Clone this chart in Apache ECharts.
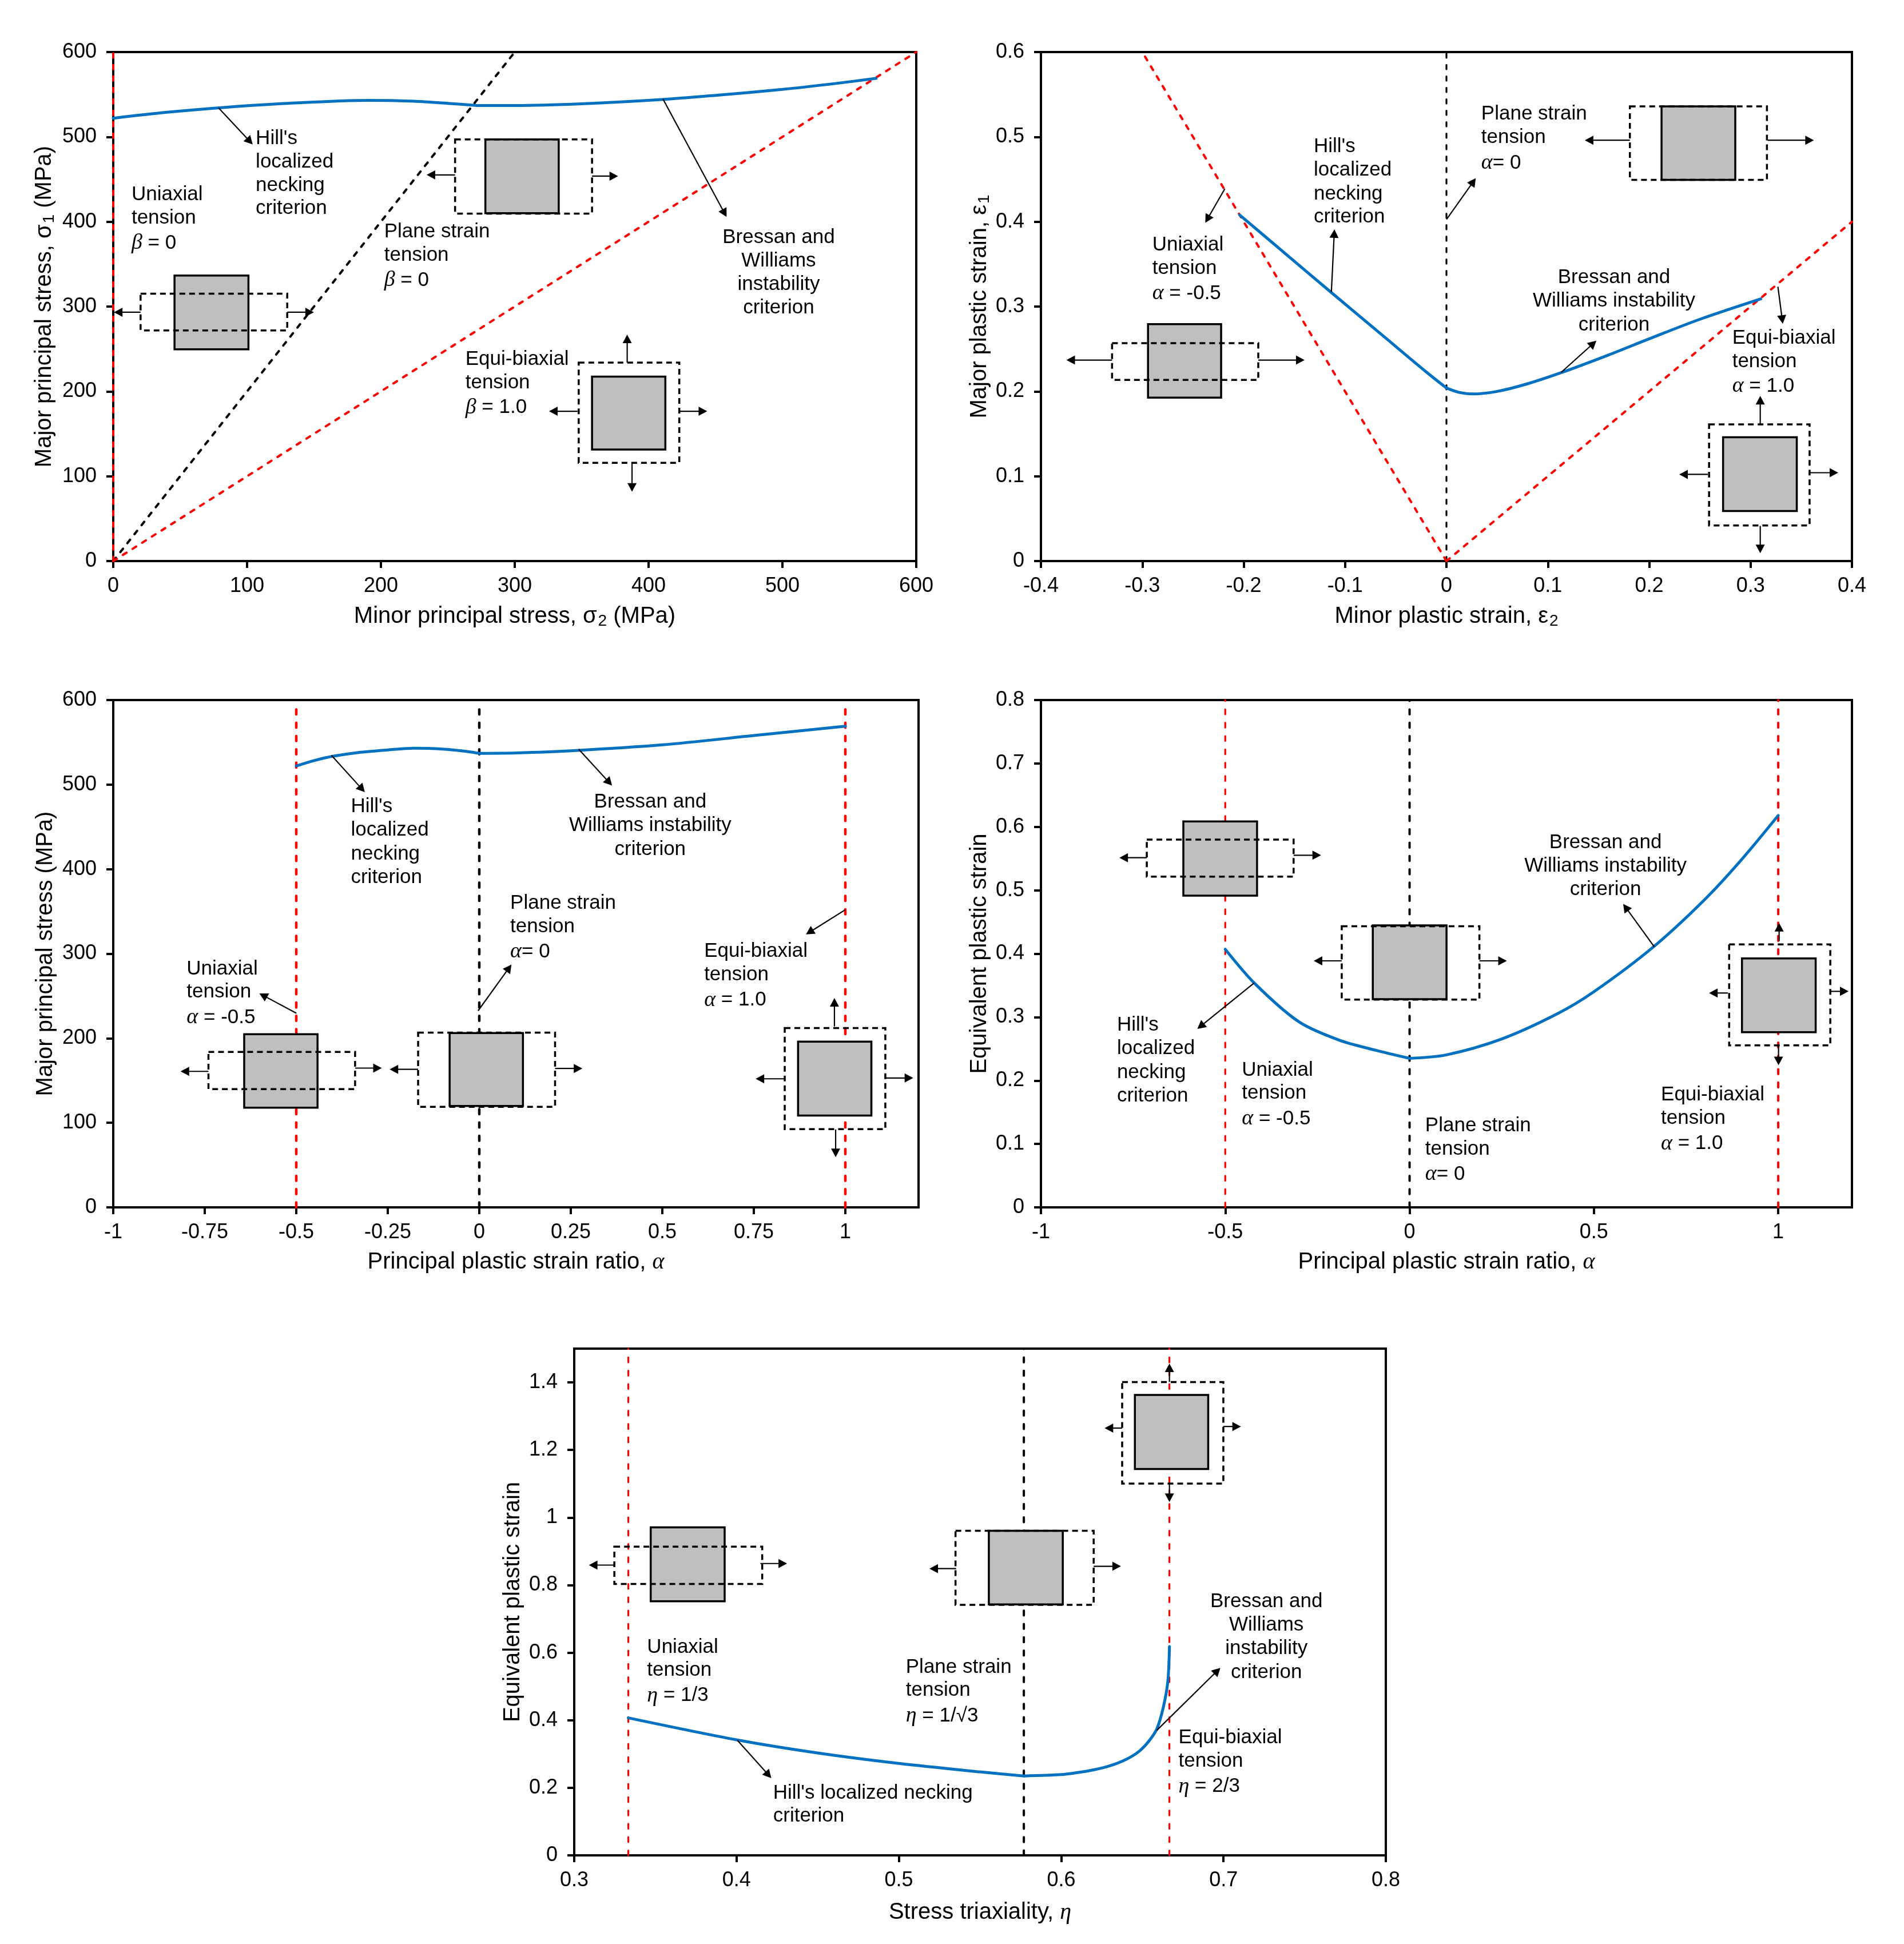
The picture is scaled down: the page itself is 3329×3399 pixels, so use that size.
<!DOCTYPE html>
<html><head><meta charset="utf-8">
<style>html,body{margin:0;padding:0;background:#fff}#c{width:3329px;height:3399px}</style>
<script src="https://cdn.jsdelivr.net/npm/echarts@6/dist/echarts.min.js"></script>
</head><body><div id="c"></div>
<script>
// ---- data ----
const a_sigma2 = [0,40,85,130,190,225,250,272,300,350,410,450,500,540,570];
const a_sigma1 = [522,529,535,539.5,543,542,539.5,537,537,539,544,549,556,563,569];
const b_eps2 = [-0.204,-0.16,-0.114,-0.06,-0.02,0,0.012,0.026,0.05,0.08,0.113,0.16,0.2,0.25,0.31];
const b_eps1 = [0.408,0.3635,0.317,0.263,0.223,0.204,0.199,0.197,0.2,0.209,0.222,0.243,0.262,0.285,0.309];
const c_alpha = [-0.5,-0.45,-0.4,-0.33,-0.25,-0.18,-0.1,-0.03,0,0.1,0.25,0.5,0.75,1];
const c_sigma1 = [522,528.5,533.5,538,541,543,542,539,537,537.5,540,547,558,569];
const d_alpha = [-0.5,-0.42,-0.3,-0.19,-0.09,0,0.1,0.25,0.4,0.5,0.66,0.8,0.9,1];
const d_eqv = [0.407,0.353,0.2925,0.2635,0.2475,0.235,0.2405,0.2655,0.305,0.34,0.41,0.485,0.548,0.618];
const e_eta = [0.3333,0.4,0.45,0.5,0.55,0.577,0.6,0.61,0.62,0.63,0.64,0.648,0.654,0.659,0.663,0.6657,0.6667];
const e_eqv = [0.407,0.342,0.303,0.272,0.247,0.235,0.239,0.245,0.253,0.265,0.284,0.308,0.338,0.375,0.44,0.515,0.618];
const xTicksA = [0,100,200,300,400,500,600];
const yTicksA = [0,100,200,300,400,500,600];
const xTicksB = [-0.4,-0.3,-0.2,-0.1,0,0.1,0.2,0.3,0.4];
const yTicksB = [0,0.1,0.2,0.3,0.4,0.5,0.6];
const xTicksC = [-1,-0.75,-0.5,-0.25,0,0.25,0.5,0.75,1];
const xTicksD = [-1,-0.5,0,0.5,1];
const yTicksD = [0,0.1,0.2,0.3,0.4,0.5,0.6,0.7,0.8];
const xTicksE = [0.3,0.4,0.5,0.6,0.7,0.8];
const yTicksE = [0,0.2,0.4,0.6,0.8,1,1.2,1.4];

const zip = (a,b)=>a.map((v,i)=>[v,b[i]]);
const FONT = '"Liberation Sans", Arial, sans-serif';
const BLUE='#0070C0', RED='#FF0000', BLACK='#000000';
const LS=36, TS=40;

const panels = [
 {g:{left:198,top:91,width:1404,height:890}, x:{min:0,max:600,t:xTicksA}, y:{min:0,max:600,t:yTicksA},
  xn:'Minor principal stress, {s|σ}{sub|2} (MPa)', yn:'Major principal stress, {s|σ}{sub|1} (MPa)', xg:75, yg:98},
 {g:{left:1820,top:91,width:1418,height:890}, x:{min:-0.4,max:0.4,t:xTicksB}, y:{min:0,max:0.6,t:yTicksB},
  xn:'Minor plastic strain, {s|ε}{sub|2}', yn:'Major plastic strain, {s|ε}{sub|1}', xg:75, yg:85},
 {g:{left:198,top:1224,width:1408,height:887}, x:{min:-1,max:1.2,t:xTicksC}, y:{min:0,max:600,t:yTicksA},
  xn:'Principal plastic strain ratio, {g|α}', yn:'Major principal stress (MPa)', xg:76, yg:98},
 {g:{left:1820,top:1224,width:1418,height:887}, x:{min:-1,max:1.2,t:xTicksD}, y:{min:0,max:0.8,t:yTicksD},
  xn:'Principal plastic strain ratio, {g|α}', yn:'Equivalent plastic strain', xg:76, yg:87},
 {g:{left:1004,top:2358,width:1419,height:886}, x:{min:0.3,max:0.8,t:xTicksE}, y:{min:0,max:1.5,t:yTicksE},
  xn:'Stress triaxiality, {g|η}', yn:'Equivalent plastic strain', xg:80, yg:87},
];
const nameRich = {g:{fontFamily:'"Liberation Serif"',fontStyle:'italic',fontSize:TS,fill:'#000'},
                  s:{fontFamily:FONT,fontSize:TS},
                  sub:{fontFamily:FONT,fontSize:28,verticalAlign:'bottom',padding:[16,0,0,2]}};
const axisCommon = ()=>({type:'value',splitLine:{show:false},minorTick:{show:false},
  axisLine:{show:true,onZero:false,lineStyle:{color:BLACK,width:4}},
  nameTextStyle:{color:BLACK,fontFamily:FONT,fontSize:TS,rich:nameRich},nameLocation:'middle'});
const xAxis = panels.map((p,i)=>Object.assign(axisCommon(),{gridIndex:i,min:p.x.min,max:p.x.max,name:p.xn,nameGap:p.xg,
  axisTick:{show:true,length:12,inside:false,lineStyle:{color:BLACK,width:4},customValues:p.x.t},
  axisLabel:{color:BLACK,fontFamily:FONT,fontSize:LS,margin:26,customValues:p.x.t,formatter:v=>String(v)}}));
const yAxis = panels.map((p,i)=>Object.assign(axisCommon(),{gridIndex:i,min:p.y.min,max:p.y.max,name:p.yn,nameGap:p.yg,nameRotate:90,
  axisTick:{show:true,length:12,inside:false,lineStyle:{color:BLACK,width:4},customValues:p.y.t},
  axisLabel:{color:BLACK,fontFamily:FONT,fontSize:LS,margin:29,customValues:p.y.t,formatter:v=>String(v)}}));

const ser=(i,data,color,w,dash,name,z)=>({type:'line',name,xAxisIndex:i,yAxisIndex:i,data,showSymbol:false,symbol:'none',clip:false,z:z||3,
  lineStyle:{color,width:w,type:dash||'solid',cap:'round'},animation:false});
const curve=(i,data,kink,name)=>Object.assign(ser(i,data.slice(kink[0],kink[1]),BLUE,5,null,name,6),{smooth:0.3});
const DASHA=[7.5,12.5], DASHV=[8.5,14.8];
const series=[
 ser(0,[[0,0],[0,600]],BLACK,4,DASHA,'plane y',3),
 ser(0,[[0,0],[300,600]],BLACK,4,DASHA,'plane strain',3),
 ser(0,[[0,0],[0,600]],RED,4,DASHA,'uniaxial',4),
 ser(0,[[0,0],[600,600]],RED,4,DASHA,'equi-biaxial',4),
 curve(0,zip(a_sigma2,a_sigma1),[0,8],"Hill"),
 curve(0,zip(a_sigma2,a_sigma1),[7,99],"Bressan and Williams"),
 ser(1,[[0,0],[0,0.6]],BLACK,3.2,DASHA,'plane strain',3),
 ser(1,[[0,0],[-0.3,0.6]],RED,4,DASHA,'uniaxial',4),
 ser(1,[[0,0],[0.4,0.4]],RED,4,DASHA,'equi-biaxial',4),
 curve(1,zip(b_eps2,b_eps1),[0,6],"Hill"),
 curve(1,zip(b_eps2,b_eps1),[5,99],"Bressan and Williams"),
 ser(2,[[-0.5,0],[-0.5,592]],RED,4.5,DASHV,'uniaxial',4),
 ser(2,[[0,0],[0,592]],BLACK,4.5,DASHV,'plane strain',3),
 ser(2,[[1,0],[1,592]],RED,4.5,DASHV,'equi-biaxial',4),
 curve(2,zip(c_alpha,c_sigma1),[0,9],"Hill"),
 curve(2,zip(c_alpha,c_sigma1),[8,99],"Bressan and Williams"),
 ser(3,[[-0.5,0],[-0.5,0.8]],RED,3.2,DASHV,'uniaxial',4),
 ser(3,[[0,0],[0,0.8]],BLACK,4,DASHV,'plane strain',3),
 ser(3,[[1,0],[1,0.8]],RED,4,DASHV,'equi-biaxial',4),
 curve(3,zip(d_alpha,d_eqv),[0,6],"Hill"),
 curve(3,zip(d_alpha,d_eqv),[5,99],"Bressan and Williams"),
 ser(4,[[1/3,0],[1/3,1.5]],RED,3.2,DASHV,'uniaxial',4),
 ser(4,[[0.577,0],[0.577,1.5]],BLACK,4,DASHV,'plane strain',3),
 ser(4,[[2/3,0],[2/3,1.5]],RED,3.2,DASHV,'equi-biaxial',4),
 curve(4,zip(e_eta,e_eqv),[0,6],"Hill"),
 curve(4,zip(e_eta,e_eqv),[5,99],"Bressan and Williams"),
];

// ---- annotations: schematic specimens, arrows and notes ----
const elems=[];
const tf=[
 [(x)=>x*1.0595,(y)=>y*0.7212],
 [(x)=>1660+x*1.0651,(y)=>y*0.7212],
 [(x)=>x*1.0595,(y)=>1160+y*0.7212],
 [(x)=>1660+x*1.0651,(y)=>1160+y*0.7212],
 [(x)=>840+x*1.0595,(y)=>2320+y*0.6884]];
function arrow(pi,x1,y1,x2,y2){
  const [fx,fy]=tf[pi]; const X1=fx(x1),Y1=fy(y1),X2=fx(x2),Y2=fy(y2);
  const d=Math.hypot(X2-X1,Y2-Y1),ux=(X2-X1)/d,uy=(Y2-Y1)/d,L=15,W=8;
  elems.push({type:'line',z:20,silent:true,shape:{x1:X1,y1:Y1,x2:X2-ux*L*0.8,y2:Y2-uy*L*0.8},style:{stroke:BLACK,lineWidth:2.2}});
  elems.push({type:'polygon',z:20,silent:true,shape:{points:[[X2,Y2],[X2-ux*L-uy*W,Y2-uy*L+ux*W],[X2-ux*L+uy*W,Y2-uy*L-ux*W]]},style:{fill:BLACK}});
}
function box(pi,gx1,gx2,gy1,gy2,dx1,dx2,dy1,dy2){
  const [fx,fy]=tf[pi];
  elems.push({type:'rect',z:20,silent:true,shape:{x:fx(gx1),y:fy(gy1),width:fx(gx2)-fx(gx1),height:fy(gy2)-fy(gy1)},style:{fill:'#BFBFBF',stroke:BLACK,lineWidth:3.5}});
  elems.push({type:'rect',z:21,silent:true,shape:{x:fx(dx1),y:fy(dy1),width:fx(dx2)-fx(dx1),height:fy(dy2)-fy(dy1)},style:{fill:'none',stroke:BLACK,lineWidth:3.5,lineDash:[10,7]}});
}
const noteRich={g:{fontFamily:'"Liberation Serif"',fontStyle:'italic',fontSize:38,fill:'#000'}};
function note(pi,x,lines,ys,align){
  const [fx,fy]=tf[pi];
  lines.forEach((t,i)=>elems.push({type:'text',z:22,silent:true,x:fx(x),y:fy(ys[i])+1,
    style:{text:t,rich:noteRich,fill:BLACK,fontFamily:FONT,fontSize:35,align:align||'left',verticalAlign:'middle'}}));
}
const C='center';
// panel 1
box(0,288,410,668,847,232,474,712,801); arrow(0,232,757,188,757); arrow(0,474,757,518,757);
box(0,801,922,338,517,751,977,338,518); arrow(0,751,424,704,424); arrow(0,977,427,1020,427);
box(0,977,1098,913,1090,955,1121,879,1122); arrow(0,1035,879,1035,811); arrow(0,1043,1123,1043,1192); arrow(0,953,997,906,997); arrow(0,1121,997,1167,997);
arrow(0,361,262,417,350); arrow(0,1094,240,1199,526);
note(0,422,["Hill's","localized","necking","criterion"],[334,391,449,504]);
note(0,217,["Uniaxial","tension","{g|β} = 0"],[470,528,588]);
note(0,634,["Plane strain","tension","{g|β} = 0"],[561,618,678]);
note(0,1285,["Bressan and","Williams","instability","criterion"],[574,631,688,745],C);
note(0,768,["Equi-biaxial","tension","{g|β} = 1.0"],[870,927,987]);
// panel 2
box(1,326,446,786,964,267,507,832,921); arrow(1,267,873,192,873); arrow(1,507,873,583,873);
box(1,1169,1290,258,436,1117,1342,258,436); arrow(1,1117,340,1043,340); arrow(1,1343,340,1419,340);
box(1,1270,1391,1060,1239,1247,1412,1029,1274); arrow(1,1331,1029,1331,960); arrow(1,1331,1275,1331,1341); arrow(1,1245,1150,1198,1150); arrow(1,1413,1146,1459,1146);
arrow(1,452,458,420,540); arrow(1,816,532,864,432); arrow(1,627,708,632,556); arrow(1,1004,903,1062,826); arrow(1,1360,695,1368,785);
note(1,333,["Uniaxial","tension","{g|α} = -0.5"],[593,650,710]);
note(1,598,["Hill's","localized","necking","criterion"],[354,411,469,525]);
note(1,873,["Plane strain","tension","{g|α}= 0"],[275,332,394]);
note(1,1091,["Bressan and","Williams instability","criterion"],[672,729,787],C);
note(1,1285,["Equi-biaxial","tension","{g|α} = 1.0"],[818,875,935]);
// panel 3
box(2,403,524,899,1077,344,586,942,1032); arrow(2,344,989,298,989); arrow(2,586,981,630,981);
box(2,742,863,896,1073,690,916,895,1075); arrow(2,690,984,643,984); arrow(2,916,982,961,982);
box(2,1317,1438,917,1096,1295,1461,884,1129); arrow(2,1377,880,1377,811); arrow(2,1379,1130,1379,1197); arrow(2,1295,1007,1247,1007); arrow(2,1461,1005,1507,1005);
arrow(2,547,223,602,312); arrow(2,955,208,1010,296); arrow(2,489,848,428,800); arrow(2,789,842,844,730); arrow(2,1395,597,1330,657);
note(2,579,["Hill's","localized","necking","criterion"],[346,403,461,517]);
note(2,1073,["Bressan and","Williams instability","criterion"],[335,392,450],C);
note(2,842,["Plane strain","tension","{g|α}= 0"],[580,637,698]);
note(2,308,["Uniaxial","tension","{g|α} = -0.5"],[739,795,857]);
note(2,1162,["Equi-biaxial","tension","{g|α} = 1.0"],[696,753,815]);
// panel 4
box(3,384,505,383,563,324,565,427,517); arrow(3,324,471,279,471); arrow(3,565,465,610,465);
box(3,695,816,635,814,644,870,637,815); arrow(3,644,721,598,721); arrow(3,870,721,915,721);
box(3,1301,1422,715,894,1280,1446,681,926); arrow(3,1362,673,1362,629); arrow(3,1361,926,1361,974); arrow(3,1278,799,1247,799); arrow(3,1446,795,1476,795);
arrow(3,500,775,407,886); arrow(3,1157,687,1106,583);
note(3,275,["Hill's","localized","necking","criterion"],[875,932,990,1047]);
note(3,480,["Uniaxial","tension","{g|α} = -0.5"],[985,1041,1103]);
note(3,781,["Plane strain","tension","{g|α}= 0"],[1119,1176,1237]);
note(3,1168,["Equi-biaxial","tension","{g|α} = 1.0"],[1045,1102,1163]);
note(3,1077,["Bressan and","Williams instability","criterion"],[433,490,547],C);
// panel 5
box(4,281,403,509,697,221,465,558,653); arrow(4,221,605,179,605); arrow(4,462,601,506,601);
box(4,839,961,518,705,784,1012,518,706); arrow(4,785,614,741,614); arrow(4,1012,608,1057,608);
box(4,1080,1201,173,361,1059,1226,140,398); arrow(4,1137,140,1137,93); arrow(4,1137,398,1137,445); arrow(4,1059,257,1030,257); arrow(4,1226,253,1255,253);
arrow(4,424,1050,480,1146); arrow(4,1116,1025,1221,866);
note(4,275,["Uniaxial","tension","{g|η} = 1/3"],[812,871,935]);
note(4,702,["Plane strain","tension","{g|η} = 1/√3"],[863,922,987]);
note(4,1152,["Equi-biaxial","tension","{g|η} = 2/3"],[1042,1101,1166]);
note(4,483,["Hill's localized necking","criterion"],[1183,1241]);
note(4,1297,["Bressan and","Williams","instability","criterion"],[697,756,816,876],C);

const chart=echarts.init(document.getElementById('c'),null,{renderer:'canvas',width:3329,height:3399});
chart.setOption({animation:false,backgroundColor:'#fff',
  grid:panels.map(p=>Object.assign({show:true,borderColor:BLACK,borderWidth:4,backgroundColor:'transparent',containLabel:false},p.g)),
  xAxis,yAxis,series,
  graphic:{elements:elems}});
</script></body></html>
